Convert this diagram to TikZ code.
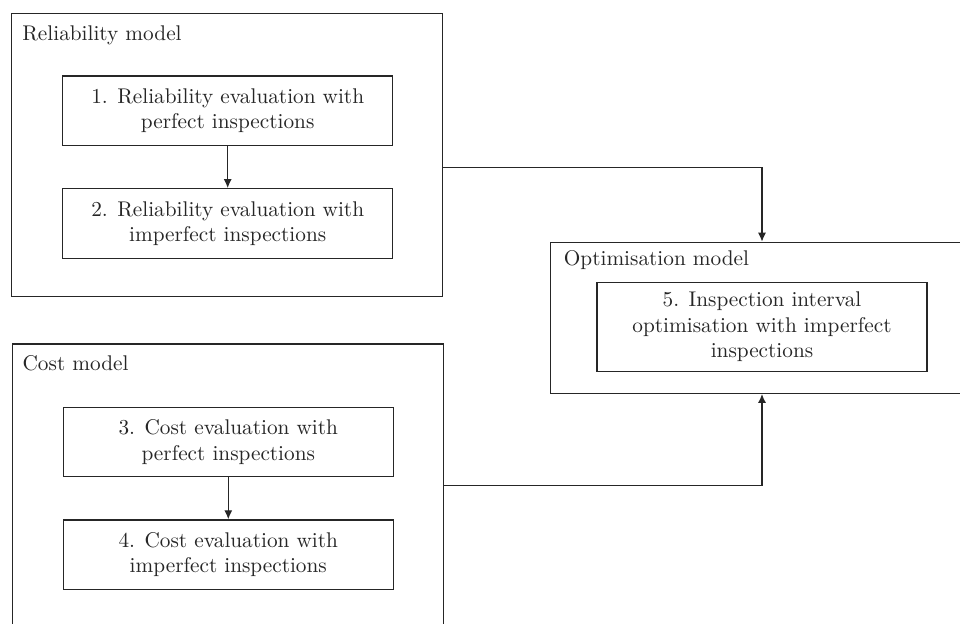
\documentclass[tikz,border=0pt]{standalone}
\usetikzlibrary{arrows.meta}
\begin{document}
\begin{tikzpicture}[x=0.47pt,y=-0.47pt,
  line width=0.6pt,
  every node/.style={text=black!85},
  outerbox/.style={draw=black!85, rectangle, inner sep=0pt},
  stepbox/.style={draw=black!85, rectangle, align=center, inner sep=3.5pt, minimum width=155.1pt, minimum height=32.7pt},
  lbl/.style={anchor=base west, inner sep=0pt},
  conn/.style={draw=black!85, -{Latex[length=4.2pt,width=3.8pt]}}]
\useasboundingbox (0,0) rectangle (960,623);
\clip (0,0) rectangle (960,623);
% containers
\node[outerbox, minimum width=202.5pt, minimum height=133.2pt] (rel) at (227.1,155) {};
\node[outerbox, minimum width=202.5pt, minimum height=133.2pt] (cost) at (228,485.7) {};
\node[outerbox, minimum width=198.6pt, minimum height=71pt] (opt) at (762,317.8) {};
% labels
\node[lbl] (rellbl) at (21.7,40) {Reliability model};
\node[lbl] (costlbl) at (22,370.7) {Cost model};
\node[lbl] (optlbl) at (563.3,265) {Optimisation model};
% steps
\node[stepbox] (b1) at (227.7,110.9) {1. Reliability evaluation with\\ perfect inspections};
\node[stepbox] (b2) at (227.7,223.5) {2. Reliability evaluation with\\ imperfect inspections};
\node[stepbox] (b3) at (228.3,442) {3. Cost evaluation with\\ perfect inspections};
\node[stepbox] (b4) at (228.3,554.7) {4. Cost evaluation with\\ imperfect inspections};
\node[stepbox, minimum height=41.6pt] (b5) at (762,327) {5. Inspection interval\\ optimisation with imperfect\\ inspections};
% connectors
\draw[conn] (b1) -- (b2);
\draw[conn] (b3) -- (b4);
\coordinate (relout) at (rel.east |- 0,167.2);
\draw[conn] (relout) -| (opt.north);
\draw[conn] (cost.east) -| (opt.south);
\end{tikzpicture}
\end{document}
